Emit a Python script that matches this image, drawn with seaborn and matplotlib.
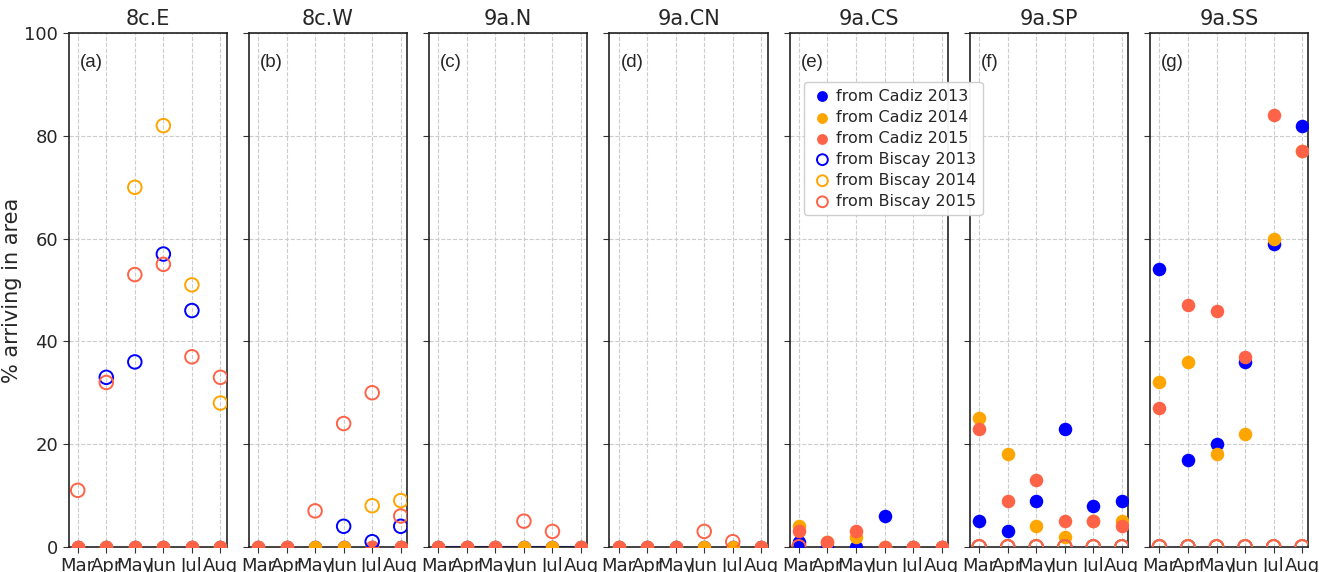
import numpy as np
import pandas as pd
import matplotlib
matplotlib.use("Agg")
import matplotlib.pyplot as plt
import seaborn as sns

sns.set_style("ticks")
plt.rcParams['font.family'] = ['DejaVu Sans']

months = ["Mar", "Apr", "May", "Jun", "Jul", "Aug"]
areas = ["8c.E", "8c.W", "9a.N", "9a.CN", "9a.CS", "9a.SP", "9a.SS"]
letters = ["(a)", "(b)", "(c)", "(d)", "(e)", "(f)", "(g)"]
years = [2013, 2014, 2015]
colours = {2013: "blue", 2014: "orange", 2015: "tomato"}
nan = np.nan

# % arriving from Cadiz, per area, per year (Mar..Aug)
cadiz = {
    "8c.E":  {2013: [0, 0, 0, 0, 0, 0], 2014: [0, 0, 0, 0, 0, 0], 2015: [0, 0, 0, 0, 0, 0]},
    "8c.W":  {2013: [0, 0, 0, 0, 0, 0], 2014: [0, 0, 0, 0, 0, 0], 2015: [0, 0, nan, nan, 0, 0]},
    "9a.N":  {2013: [0, 0, 0, 0, 0, 0], 2014: [0, 0, 0, 0, 0, 0], 2015: [0, 0, 0, nan, nan, 0]},
    "9a.CN": {2013: [0, 0, 0, 0, 0, 0], 2014: [0, 0, 0, 0, 0, 0], 2015: [0, 0, 0, nan, nan, 0]},
    "9a.CS": {2013: [1, 0, 0, 6, 0, 0], 2014: [4, 1, 2, 0, 0, 0], 2015: [3, 1, 3, 0, 0, 0]},
    "9a.SP": {2013: [5, 3, 9, 23, 8, 9], 2014: [25, 18, 4, 2, 5, 5], 2015: [23, 9, 13, 5, 5, 4]},
    "9a.SS": {2013: [54, 17, 20, 36, 59, 82], 2014: [32, 36, 18, 22, 60, 77], 2015: [27, 47, 46, 37, 84, 77]},
}

# % arriving from Biscay
biscay = {
    "8c.E":  {2013: [nan, 33, 36, 57, 46, nan], 2014: [nan, nan, 70, 82, 51, 28], 2015: [11, 32, 53, 55, 37, 33]},
    "8c.W":  {2013: [nan, nan, nan, 4, 1, 4], 2014: [nan, nan, nan, nan, 8, 9], 2015: [nan, nan, 7, 24, 30, 6]},
    "9a.N":  {2013: [nan] * 6, 2014: [nan] * 6, 2015: [nan, nan, nan, 5, 3, nan]},
    "9a.CN": {2013: [nan] * 6, 2014: [nan] * 6, 2015: [nan, nan, nan, 3, 1, nan]},
    "9a.CS": {2013: [nan] * 6, 2014: [nan] * 6, 2015: [0, nan, nan, nan, nan, nan]},
    "9a.SP": {2013: [0] * 6, 2014: [0] * 6, 2015: [0, 0, 0, 0, 0, 0]},
    "9a.SS": {2013: [0] * 6, 2014: [0] * 6, 2015: [0, 0, 0, 0, 0, 0]},
}

# zero line seen along the bottom of 9a.N
line_9aN = [0, 0, 0, 0, 0, 0]

fig, axes = plt.subplots(1, 7, figsize=(13.19, 5.72), dpi=100, sharey=True)
fig.subplots_adjust(left=0.052, right=0.992, top=0.942, bottom=0.044, wspace=0.14)

for ax, area, letter in zip(axes, areas, letters):
    if area == "9a.N":
        sns.lineplot(x=months, y=line_9aN, ax=ax, color="blue", lw=1.5, zorder=2)
    for yr in years:
        df = pd.DataFrame({"month": months, "value": cadiz[area][yr]}).dropna()
        sns.scatterplot(data=df, x="month", y="value", ax=ax, s=95, color=colours[yr],
                        edgecolor=colours[yr], linewidth=0, zorder=3,
                        label="from Cadiz %d" % yr)
    for yr in years:
        df = pd.DataFrame({"month": months, "value": biscay[area][yr]}).dropna()
        sns.scatterplot(data=df, x="month", y="value", ax=ax, s=95, facecolor="none",
                        edgecolor=colours[yr], linewidth=1.4, zorder=4,
                        label="from Biscay %d" % yr)
    ax.set_xticks(range(6))
    ax.set_xticklabels(months)
    ax.set_xlim(-0.32, 5.22)
    ax.set_ylim(0, 100)
    ax.set_yticks([0, 20, 40, 60, 80, 100])
    ax.grid(True, ls="--", color="#cccccc", lw=0.8)
    ax.set_axisbelow(True)
    ax.set_title(area, fontsize=15)
    ax.set_xlabel("")
    ax.set_ylabel("")
    ax.tick_params(labelsize=13, length=4, color="#333333")
    for sp in ax.spines.values():
        sp.set_color("#222222")
        sp.set_linewidth(1.2)
    ax.text(0.07, 0.96, letter, transform=ax.transAxes, fontsize=13.5,
            family="Liberation Sans", va="top", ha="left")
    if ax.get_legend() is not None:
        ax.get_legend().remove()

axes[0].set_ylabel("% arriving in area", fontsize=15, labelpad=2)

# collect one handle per label over all panels
keep = {}
for ax in axes:
    for h, l in zip(*ax.get_legend_handles_labels()):
        if l.startswith("from") and l not in keep:
            keep[l] = h
order = ["from Cadiz %d" % y for y in years] + ["from Biscay %d" % y for y in years]
leg = axes[4].legend([keep[l] for l in order], order, loc="upper left",
                     bbox_to_anchor=(0.04, 0.92), fontsize=11.5, handletextpad=0.1,
                     labelspacing=0.38, borderpad=0.4, handlelength=1.5,
                     markerscale=0.8, framealpha=0.95)
leg.set_zorder(10)
axes[4].set_zorder(5)

fig.savefig("out.png", dpi=100)
